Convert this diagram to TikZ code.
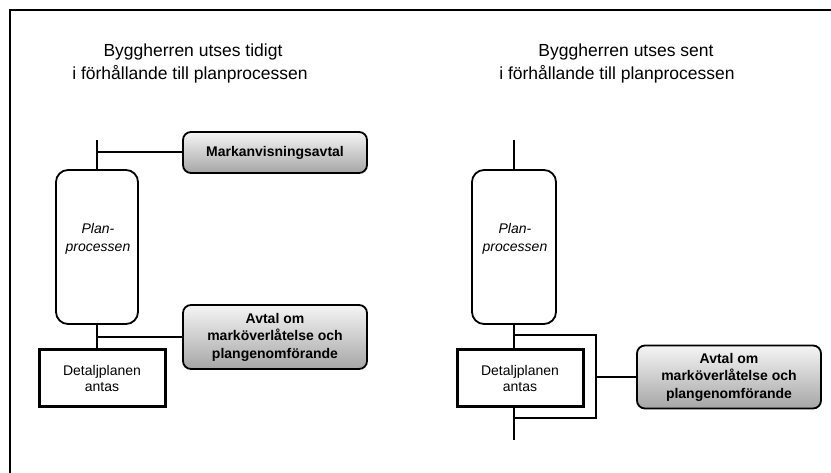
\documentclass[tikz,border=0pt]{standalone}
\usepackage{fontspec}
\setmainfont{Liberation Sans}
\begin{document}
\begin{tikzpicture}[x=1pt,y=-1pt,
  conn/.style={line width=2pt},
  frameline/.style={line width=2.6pt},
  titletext/.style={font=\fontsize{17.5}{23}\selectfont, anchor=mid, inner sep=0pt},
  planbox/.style={draw, line width=1.8pt, rounded corners=12pt, fill=white,
    minimum width=82pt, minimum height=154pt, inner sep=0pt},
  plantext/.style={font=\fontsize{14}{18}\selectfont\itshape, align=center, inner sep=0pt},
  detaljbox/.style={draw, line width=3pt, fill=white, minimum width=126pt,
    minimum height=57pt, inner sep=0pt, align=center,
    font=\fontsize{14}{16.5}\selectfont},
  avtalbox/.style={draw, line width=1.8pt, rounded corners=8pt,
    top color=black!4, bottom color=black!35, minimum width=184pt,
    inner sep=0pt, align=center, font=\fontsize{14}{17.5}\selectfont\bfseries}
]
\useasboundingbox (0,0) rectangle (831,473);

% outer frame
\draw[frameline] (10,480) -- (10,10) -- (840,10);

% titles
\node[titletext] (tl1) at (193,54) {Byggherren utses tidigt};
\node[titletext] (tl2) at (190,77) {i förhållande till planprocessen};
\node[titletext] (tr1) at (626,54) {Byggherren utses sent};
\node[titletext] (tr2) at (617,77) {i förhållande till planprocessen};

% ---- left: early developer ----
\coordinate (topL) at (97,140);
\node[planbox] (planL) at (97,247) {};
\node[plantext] (planLtxt) at (98,239) {Plan-\\processen};
\node[avtalbox, minimum height=41pt] (markL) at (275,152.5) {Markanvisningsavtal};
\node[avtalbox, minimum height=64pt] (avtalL) at (275,337) {Avtal om\\markö\-verlåtelse och\\plangenomförande};
\node[detaljbox] (detaljL) at (102,378.5) {Detaljplanen\\antas};

\draw[conn] (topL) -- (planL.north);
\draw[conn] (planL.north |- markL.west) -- (markL.west);
\draw[conn] (planL.south) -- (planL.south |- detaljL.north);
\draw[conn] (planL.south |- avtalL.west) -- (avtalL.west);

% ---- right: late developer ----
\coordinate (topR) at (514,140);
\coordinate (botR) at (514,440);
\coordinate (brTL) at (514,335);
\coordinate (brTR) at (596,335);
\coordinate (brBR) at (596,418);
\coordinate (brBL) at (514,418);
\node[planbox, minimum width=84pt] (planR) at (514,247) {};
\node[plantext] (planRtxt) at (515,239) {Plan-\\processen};
\node[avtalbox, minimum height=63pt] (avtalR) at (729,377) {Avtal om\\markö\-verlåtelse och\\plangenomförande};

\draw[conn] (topR) -- (planR.north);
\draw[conn] (planR.south) -- (botR);
\draw[conn] (brTL) -- (brTR) -- (brBR) -- (brBL);
\draw[conn] (brTR |- avtalR.west) -- (avtalR.west);
\node[detaljbox] (detaljR) at (520,378.5) {Detaljplanen\\antas};
\end{tikzpicture}
\end{document}
